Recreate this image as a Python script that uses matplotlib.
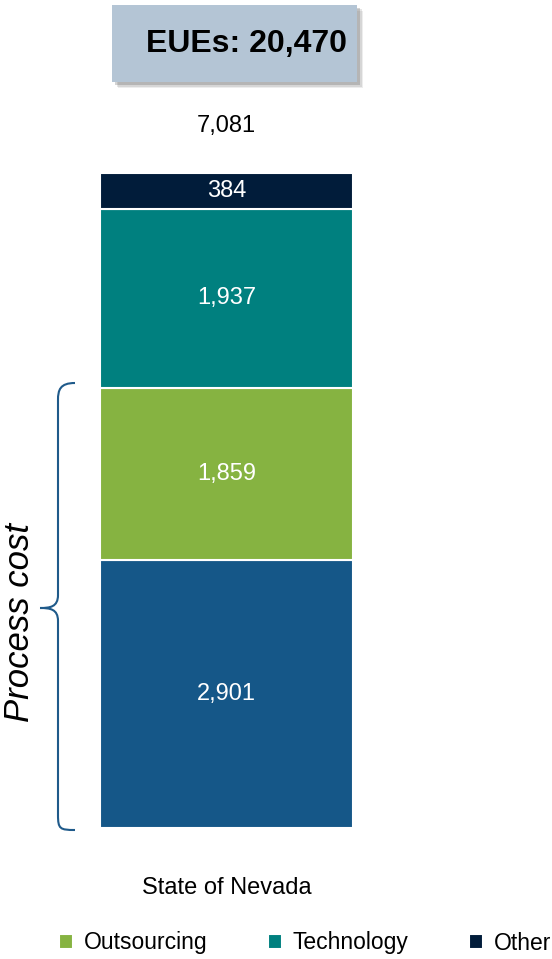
import matplotlib.pyplot as plt
from matplotlib.patches import Rectangle, PathPatch
from matplotlib.path import Path

# data
categories = ['Labor', 'Outsourcing', 'Technology', 'Other']
values = [2901, 1859, 1937, 384]
colors = ['#155788', '#86b341', '#00807f', '#011c3a']
bar_label = 'State of Nevada'
eues_text = 'EUEs: 20,470'

plt.rcParams['font.family'] = ['Liberation Sans', 'DejaVu Sans']

W, H = 552, 959
fig = plt.figure(figsize=(W / 100, H / 100), dpi=100)


def px(x, y):
    # figure pixel coords (top-left origin) -> figure fraction
    return x / W, 1 - y / H


# axes placed so the bar lands where it sits in the picture
scale = 655 / sum(values)
ax = fig.add_axes([0, (H - 828) / H, 1, 828 / H])
ax.set_xlim(-0.5 - 100 / 253, -0.5 - 100 / 253 + W / 253)
ax.set_ylim(0, 828 / scale)
for s in ax.spines.values():
    s.set_visible(False)
ax.set_yticks([])

bottom = 0
for cat, v, c in zip(categories, values, colors):
    ax.bar(0, v, width=1, bottom=bottom, color=c, edgecolor='white',
           linewidth=1.5, label=cat)
    ax.text(0, bottom + v / 2, f'{v:,}', ha='center', va='center',
            color='white', fontsize=17)
    bottom += v

ax.annotate(f'{sum(values):,}', (0, bottom), xytext=(0, 34), textcoords='offset points',
            ha='center', va='center', fontsize=17)

ax.set_xticks([0])
ax.set_xticklabels([bar_label], fontsize=17)
ax.tick_params(axis='x', length=0, pad=35)

# EUEs box with a soft shadow
x0, y0 = px(112, 82)
bw, bh = 245 / W, 77 / H
for i, a in enumerate([0.10, 0.15, 0.25]):
    off = (6 - i * 1.5)
    fig.patches.append(Rectangle((x0 + off / W, y0 - off / H), bw, bh,
                                 transform=fig.transFigure, color='#555555',
                                 alpha=a, lw=0))
fig.patches.append(Rectangle((x0, y0), bw, bh, transform=fig.transFigure,
                             facecolor='#b4c5d5', edgecolor='none'))
fig.text(*px(247, 44), eues_text, ha='center', va='center', fontsize=23,
         fontweight='bold')

# curly brace
bc = '#1f5a8a'
verts = [px(75, 383), px(60, 383), px(58, 390), px(58, 400),
         px(58, 595), px(58, 607), px(50, 608), px(40, 608),
         px(50, 608), px(58, 609), px(58, 621),
         px(58, 815), px(58, 829), px(60, 830), px(75, 830)]
codes = [Path.MOVETO, Path.CURVE4, Path.CURVE4, Path.CURVE4,
         Path.LINETO, Path.CURVE4, Path.CURVE4, Path.CURVE4,
         Path.CURVE4, Path.CURVE4, Path.CURVE4,
         Path.LINETO, Path.CURVE4, Path.CURVE4, Path.CURVE4]
fig.patches.append(PathPatch(Path(verts, codes), transform=fig.transFigure,
                             facecolor='none', edgecolor=bc, lw=1.5))
fig.text(*px(20, 622), 'Process cost', rotation=90, ha='center', va='center',
         fontsize=25, style='italic')

# legend, first entry runs off the left edge as in the source slide
handles, labels = ax.get_legend_handles_labels()
fig.legend(handles, labels, ncol=4, loc='center right', bbox_to_anchor=(*px(551, 943),),
           frameon=False, fontsize=16.5, handlelength=0.62, handleheight=0.62,
           handletextpad=0.45, columnspacing=2.65, borderpad=0, borderaxespad=0)

fig.savefig('out.png', dpi=100)
